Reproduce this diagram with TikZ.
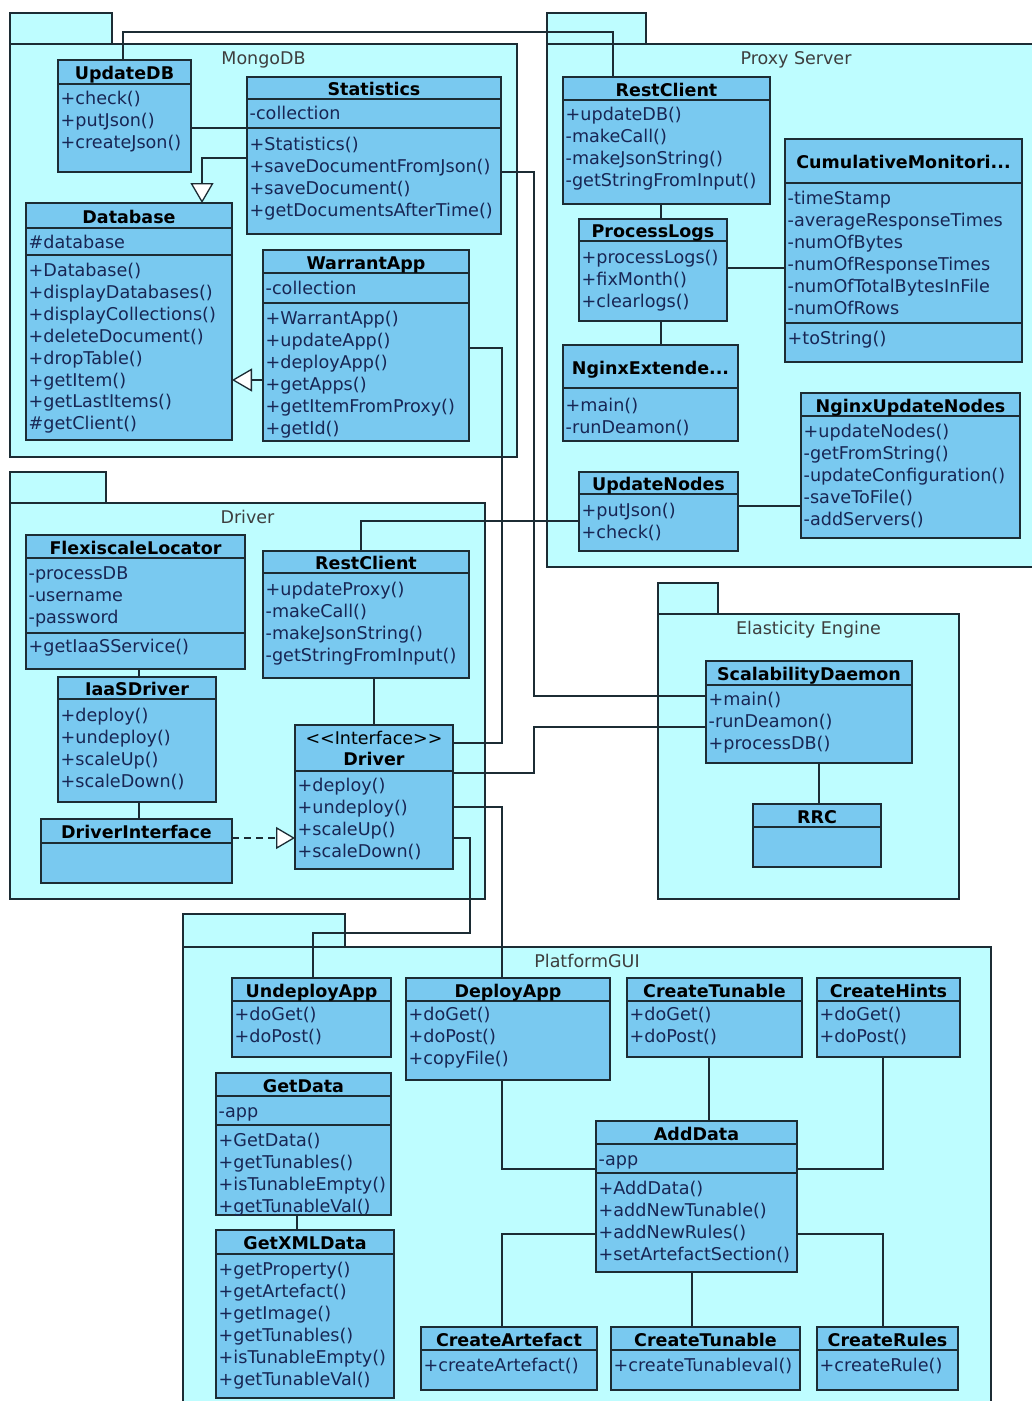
\documentclass[tikz,border=0pt]{standalone}
\usepackage{fontspec}
\setmainfont{DejaVu Sans}
\usetikzlibrary{arrows.meta}

\definecolor{pkgfill}{RGB}{190,253,255}
\definecolor{classfill}{RGB}{121,201,240}
\definecolor{linecol}{RGB}{28,44,52}
\definecolor{membercol}{RGB}{24,38,84}
\definecolor{pkgtext}{RGB}{62,62,62}

% class frame with its header separator
\newcommand\umlframe[6]{%
  \node[classbox, minimum width={(#4)-(#2)}, minimum height={(#5)-(#3)}] (#1) at (#2,#3) {};
  \draw[classline] (#1.west |- 0,#6) -- (#1.east |- 0,#6);
}
% class frame plus a centred bold name
\newcommand\umlbox[7]{%
  \umlframe{#1}{#2}{#3}{#4}{#5}{#6}
  \node[classtitle] (#1-title) at ({(#2+#4)/2},{(#3+#6)/2}) {#7};
}
% separator between attribute and operation compartments
\newcommand\umlsep[2]{\draw[classline] (#1.west |- 0,#2) -- (#1.east |- 0,#2);}
% one compartment of member lines: class, suffix, first line centre, lines
\newcommand\umlrows[4]{%
  \foreach \t [count=\i] in {#4} {%
    \node[member] (#1-#2-\i) at (#1.west |- 0,{#3+(\i-1)*21.9}) {\t};}
}
% package: name, left x, tab top, tab right, body top, right x, bottom, label
\newcommand\umlpackage[8]{%
  \node[pkgshape, minimum width={(#4)-(#2)}, minimum height={(#5)-(#3)}] (#1-tab) at (#2,#3) {};
  \node[pkgshape, minimum width={(#6)-(#2)}, minimum height={(#7)-(#5)}] (#1) at (#2,#5) {};
  \node[pkglabel] (#1-label) at ({(#2+#6)/2},{#5+14}) {#8};
}

\begin{document}
\begin{tikzpicture}[x=1pt, y=-1pt,
  classbox/.style={draw=linecol, line width=1.4pt, fill=classfill, anchor=north west,
    inner sep=0pt, outer sep=0pt},
  pkgshape/.style={draw=linecol, line width=1.4pt, fill=pkgfill, anchor=north west,
    inner sep=0pt, outer sep=0pt},
  classline/.style={draw=linecol, line width=1.3pt},
  conn/.style={draw=linecol, line width=1.3pt},
  gen/.style={conn, -{Triangle[length=20pt, width=23pt, fill=white]}},
  realize/.style={conn, dash pattern=on 7pt off 5pt,
    -{Triangle[length=19pt, width=22pt, fill=white]}},
  classtitle/.style={font=\bfseries\fontsize{17.5}{20}\selectfont, text height=18pt,
    text depth=3pt, inner sep=0pt},
  stereo/.style={font=\fontsize{17.5}{20}\selectfont, text height=16pt,
    text depth=3pt, inner sep=0pt},
  member/.style={anchor=west, xshift=2.5pt, font=\fontsize{17.6}{20}\selectfont,
    text=membercol, text height=16pt, text depth=3pt, inner sep=0pt},
  pkglabel/.style={font=\fontsize{17.5}{20}\selectfont, text=pkgtext, text height=16pt,
    text depth=3pt, inner sep=0pt}]

\useasboundingbox (0,0) rectangle (1032,1401);
\clip (0,0) rectangle (1032,1401);
\fill[white] (0,0) rectangle (1032,1401);

% ---------- packages ----------
\umlpackage{mongo}{10}{13}{112}{44}{517}{457}{MongoDB}
\umlpackage{proxy}{547}{13}{646}{44}{1045}{567}{Proxy Server}
\umlpackage{driverpkg}{10}{472}{106}{503}{485}{899}{Driver}
\umlpackage{elastic}{658}{583}{718}{614}{959}{899}{Elasticity Engine}
\umlpackage{gui}{183}{914}{345}{947}{991}{1415}{PlatformGUI}

% ---------- MongoDB ----------
\umlbox{updatedb}{58}{60}{191}{172}{84}{UpdateDB}
\umlrows{updatedb}{o}{98}{+check(),+putJson(),+createJson()}

\umlbox{stats}{247}{77}{501}{234}{99}{Statistics}
\umlrows{stats}{a}{113}{-collection}
\umlsep{stats}{128}
\umlrows{stats}{o}{144}{+Statistics(),+saveDocumentFromJson(),+saveDocument(),+getDocumentsAfterTime()}

\umlbox{database}{26}{203}{232}{440}{228}{Database}
\umlrows{database}{a}{242}{\#database}
\umlsep{database}{255}
\umlrows{database}{o}{270}{+Database(),+displayDatabases(),+displayCollections(),+deleteDocument(),+dropTable(),+getItem(),+getLastItems(),\#getClient()}

\umlbox{warrant}{263}{250}{469}{441}{273}{WarrantApp}
\umlrows{warrant}{a}{288}{-collection}
\umlsep{warrant}{303}
\umlrows{warrant}{o}{318}{+WarrantApp(),+updateApp(),+deployApp(),+getApps(),+getItemFromProxy(),+getId()}

% ---------- Proxy Server ----------
\umlbox{prest}{563}{77}{770}{204}{100}{RestClient}
\umlrows{prest}{o}{114}{+updateDB(),-makeCall(),-makeJsonString(),-getStringFromInput()}

\umlbox{plogs}{579}{219}{727}{321}{241}{ProcessLogs}
\umlrows{plogs}{o}{257}{+processLogs(),+fixMonth(),+clearlogs()}

\umlbox{cumul}{785}{139}{1022}{362}{183}{CumulativeMonitori...}
\umlrows{cumul}{a}{198}{-timeStamp,-averageResponseTimes,-numOfBytes,-numOfResponseTimes,-numOfTotalBytesInFile,-numOfRows}
\umlsep{cumul}{323}
\umlrows{cumul}{o}{338}{+toString()}

\umlbox{nginxext}{563}{345}{738}{441}{388}{NginxExtende...}
\umlrows{nginxext}{o}{405}{+main(),-runDeamon()}

\umlbox{nginxupd}{801}{393}{1020}{538}{416}{NginxUpdateNodes}
\umlrows{nginxupd}{o}{431}{+updateNodes(),-getFromString(),-updateConfiguration(),-saveToFile(),-addServers()}

\umlbox{updnodes}{579}{472}{738}{551}{494}{UpdateNodes}
\umlrows{updnodes}{o}{510}{+putJson(),+check()}

% ---------- Driver ----------
\umlbox{flexi}{26}{535}{245}{669}{558}{FlexiscaleLocator}
\umlrows{flexi}{a}{573}{-processDB,-username,-password}
\umlsep{flexi}{633}
\umlrows{flexi}{o}{646}{+getIaaSService()}

\umlbox{iaas}{58}{677}{216}{802}{699}{IaaSDriver}
\umlrows{iaas}{o}{715}{+deploy(),+undeploy(),+scaleUp(),+scaleDown()}

\umlbox{drvintf}{41}{819}{232}{883}{843}{DriverInterface}

\umlbox{drest}{263}{551}{469}{678}{573}{RestClient}
\umlrows{drest}{o}{589}{+updateProxy(),-makeCall(),-makeJsonString(),-getStringFromInput()}

\umlframe{driverif}{295}{725}{453}{869}{771}
\node[stereo] (driverif-stereo) at (374,738) {<\kern0pt<Interface>\kern0pt>};
\node[classtitle] (driverif-title) at (374,758) {Driver};
\umlrows{driverif}{o}{785}{+deploy(),+undeploy(),+scaleUp(),+scaleDown()}

% ---------- Elasticity Engine ----------
\umlbox{scal}{706}{661}{912}{763}{685}{ScalabilityDaemon}
\umlrows{scal}{o}{699}{+main(),-runDeamon(),+processDB()}

\umlbox{rrc}{753}{804}{881}{867}{827}{RRC}

% ---------- PlatformGUI ----------
\umlbox{undeploy}{232}{978}{391}{1057}{1001}{UndeployApp}
\umlrows{undeploy}{o}{1014}{+doGet(),+doPost()}

\umlbox{deploy}{406}{978}{610}{1080}{1001}{DeployApp}
\umlrows{deploy}{o}{1014}{+doGet(),+doPost(),+copyFile()}

\umlbox{ctun}{627}{978}{802}{1057}{1001}{CreateTunable}
\umlrows{ctun}{o}{1014}{+doGet(),+doPost()}

\umlbox{chints}{817}{978}{960}{1057}{1001}{CreateHints}
\umlrows{chints}{o}{1014}{+doGet(),+doPost()}

\umlbox{getdata}{216}{1073}{391}{1215}{1096}{GetData}
\umlrows{getdata}{a}{1111}{-app}
\umlsep{getdata}{1125}
\umlrows{getdata}{o}{1140}{+GetData(),+getTunables(),+isTunableEmpty(),+getTunableVal()}

\umlbox{getxml}{216}{1230}{394}{1398}{1254}{GetXMLData}
\umlrows{getxml}{o}{1269}{+getProperty(),+getArtefact(),+getImage(),+getTunables(),+isTunableEmpty(),+getTunableVal()}

\umlbox{adddata}{596}{1121}{797}{1272}{1144}{AddData}
\umlrows{adddata}{a}{1159}{-app}
\umlsep{adddata}{1173}
\umlrows{adddata}{o}{1188}{+AddData(),+addNewTunable(),+addNewRules(),+setArtefactSection()}

\umlbox{cart}{421}{1327}{597}{1390}{1350}{CreateArtefact}
\umlrows{cart}{o}{1365}{+createArtefact()}

\umlbox{ctun2}{611}{1327}{800}{1390}{1350}{CreateTunable}
\umlrows{ctun2}{o}{1365}{+createTunableval()}

\umlbox{crules}{817}{1327}{958}{1390}{1350}{CreateRules}
\umlrows{crules}{o}{1365}{+createRule()}

% ---------- connectors ----------
\draw[conn] (updatedb.north -| 123,0) |- (613,32) -- (prest.north -| 613,0);
\draw[conn] (updatedb.east |- 0,128) -- (stats.west |- 0,128);
\draw[gen] (stats.west |- 0,158) -| (database.north -| 202,0);
\draw[gen] (warrant.west |- 0,380) -- (database.east |- 0,380);
\draw[conn] (warrant.east |- 0,348) -| (502,743) -- (driverif.east |- 0,743);
\draw[conn] (stats.east |- 0,172) -| (534,696) -- (scal.west |- 0,696);
\draw[conn] (driverif.east |- 0,773) -| (534,727) -- (scal.west |- 0,727);
\draw[conn] (driverif.east |- 0,807) -| (deploy.north -| 502,0);
\draw[conn] (driverif.east |- 0,838) -| (470,933) -| (undeploy.north -| 313,0);

\draw[conn] (prest.south -| 661,0) -- (plogs.north -| 661,0);
\draw[conn] (plogs.east |- 0,268) -- (cumul.west |- 0,268);
\draw[conn] (plogs.south -| 661,0) -- (nginxext.north -| 661,0);
\draw[conn] (updnodes.east |- 0,506) -- (nginxupd.west |- 0,506);
\draw[conn] (updnodes.west |- 0,521) -| (drest.north -| 361,0);

\draw[conn] (flexi.south -| 139,0) -- (iaas.north -| 139,0);
\draw[conn] (iaas.south -| 139,0) -- (drvintf.north -| 139,0);
\draw[realize] (drvintf.east |- 0,838) -- (driverif.west |- 0,838);
\draw[conn] (drest.south -| 374,0) -- (driverif.north -| 374,0);

\draw[conn] (scal.south -| 819,0) -- (rrc.north -| 819,0);

\draw[conn] (getdata.south -| 297,0) -- (getxml.north -| 297,0);
\draw[conn] (deploy.south -| 502,0) |- (adddata.west |- 0,1169);
\draw[conn] (ctun.south -| 709,0) -- (adddata.north -| 709,0);
\draw[conn] (chints.south -| 883,0) |- (adddata.east |- 0,1169);
\draw[conn] (adddata.west |- 0,1234) -| (cart.north -| 502,0);
\draw[conn] (adddata.south -| 692,0) -- (ctun2.north -| 692,0);
\draw[conn] (adddata.east |- 0,1234) -| (crules.north -| 883,0);
\end{tikzpicture}
\end{document}
